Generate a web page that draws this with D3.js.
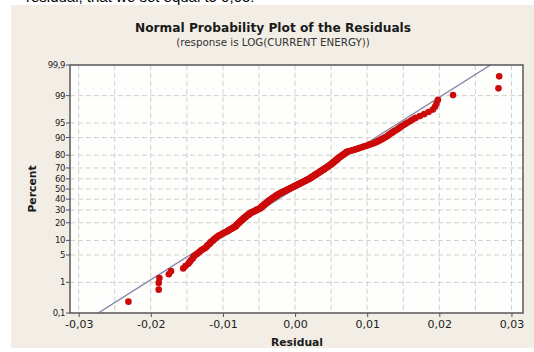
<!DOCTYPE html>
<html>
<head>
<meta charset="utf-8">
<script src="https://cdn.jsdelivr.net/npm/d3@7"></script>
<style>
  body { margin: 0; background: #fff; }
  svg { display: block; }
  .tick text { font-family: "DejaVu Sans", sans-serif; fill: #222; }
  .axis path { display: none; }
  .axis line { stroke: #555; }
</style>
</head>
<body>
<svg width="534" height="352"></svg>
<script>
// sorted residuals
const residuals = [
  -0.0231,-0.0189,-0.0189,-0.0188,-0.0175,-0.0172,-0.0155,-0.0152,-0.0148,-0.0146,
  -0.0144,-0.0142,-0.0141,-0.0139,-0.0136,-0.0134,-0.0132,-0.0130,-0.0128,-0.0125,
  -0.0123,-0.0122,-0.0121,-0.0119,-0.0118,-0.0117,-0.0116,-0.0114,-0.0113,-0.0112,
  -0.0110,-0.0109,-0.0108,-0.0106,-0.0105,-0.0103,-0.0101,-0.0100,-0.0098,-0.0096,
  -0.0094,-0.0093,-0.0092,-0.0090,-0.0089,-0.0087,-0.0086,-0.0085,-0.0083,-0.0082,
  -0.0082,-0.0081,-0.0080,-0.0080,-0.0079,-0.0078,-0.0077,-0.0077,-0.0076,-0.0075,
  -0.0074,-0.0074,-0.0073,-0.0072,-0.0071,-0.0071,-0.0070,-0.0069,-0.0068,-0.0068,
  -0.0067,-0.0066,-0.0065,-0.0064,-0.0064,-0.0063,-0.0062,-0.0061,-0.0060,-0.0059,
  -0.0057,-0.0056,-0.0055,-0.0054,-0.0053,-0.0052,-0.0050,-0.0049,-0.0048,-0.0048,
  -0.0047,-0.0046,-0.0046,-0.0045,-0.0044,-0.0044,-0.0043,-0.0043,-0.0042,-0.0041,
  -0.0041,-0.0040,-0.0039,-0.0039,-0.0038,-0.0037,-0.0037,-0.0036,-0.0036,-0.0035,
  -0.0034,-0.0033,-0.0033,-0.0032,-0.0031,-0.0030,-0.0030,-0.0029,-0.0028,-0.0027,
  -0.0027,-0.0026,-0.0025,-0.0024,-0.0024,-0.0023,-0.0022,-0.0021,-0.0020,-0.0019,
  -0.0018,-0.0017,-0.0016,-0.0015,-0.0014,-0.0013,-0.0012,-0.0011,-0.0010,-0.0009,
  -0.0008,-0.0007,-0.0006,-0.0005,-0.0004,-0.0003,-0.0002,-0.0001,0.0000,0.0001,
  0.0002,0.0003,0.0004,0.0005,0.0006,0.0007,0.0008,0.0009,0.0010,0.0011,
  0.0012,0.0013,0.0014,0.0015,0.0016,0.0017,0.0018,0.0019,0.0020,0.0021,
  0.0022,0.0022,0.0023,0.0024,0.0025,0.0026,0.0026,0.0027,0.0028,0.0029,
  0.0030,0.0030,0.0031,0.0032,0.0033,0.0034,0.0035,0.0035,0.0036,0.0037,
  0.0038,0.0039,0.0040,0.0040,0.0041,0.0042,0.0043,0.0044,0.0045,0.0046,
  0.0046,0.0047,0.0048,0.0049,0.0050,0.0050,0.0051,0.0052,0.0053,0.0053,
  0.0054,0.0055,0.0056,0.0057,0.0057,0.0058,0.0059,0.0060,0.0060,0.0061,
  0.0062,0.0063,0.0064,0.0065,0.0066,0.0067,0.0068,0.0069,0.0070,0.0071,
  0.0072,0.0074,0.0077,0.0080,0.0083,0.0085,0.0088,0.0090,0.0093,0.0095,
  0.0098,0.0101,0.0103,0.0106,0.0109,0.0111,0.0113,0.0115,0.0117,0.0119,
  0.0121,0.0123,0.0125,0.0127,0.0129,0.0130,0.0132,0.0134,0.0136,0.0138,
  0.0141,0.0143,0.0145,0.0147,0.0150,0.0153,0.0156,0.0160,0.0163,0.0167,
  0.0173,0.0179,0.0185,0.0191,0.0194,0.0196,0.0198,0.0219,0.0282,0.0283
]
const fitMean = -0.0001
const fitSd = 0.0088

const xTicks = [-0.03, -0.02, -0.01, 0, 0.01, 0.02, 0.03]
const xGrid = d3.range(-0.03, 0.0301, 0.005)
const yTicks = [0.1, 1, 5, 10, 20, 30, 40, 50, 60, 70, 80, 90, 95, 99, 99.9]

const title = 'Normal Probability Plot of the Residuals'
const subtitle = '(response is LOG(CURRENT ENERGY))'

// inverse of the standard normal cdf (Acklam)
function qnorm(p) {
  const a = [-39.69683028665376, 220.9460984245205, -275.9285104469687, 138.3577518672690, -30.66479806614716, 2.506628277459239]
  const b = [-54.47609879822406, 161.5858368580409, -155.6989798598866, 66.80131188771972, -13.28068155288572]
  const c = [-0.007784894002430293, -0.3223964580411365, -2.400758277161838, -2.549732539343734, 4.374664141464968, 2.938163982698783]
  const d = [0.007784695709041462, 0.3224671290700398, 2.445134137142996, 3.754408661907416]
  const lo = 0.02425
  let q, r
  if (p < lo) {
    q = Math.sqrt(-2 * Math.log(p))
    return (((((c[0]*q+c[1])*q+c[2])*q+c[3])*q+c[4])*q+c[5]) / ((((d[0]*q+d[1])*q+d[2])*q+d[3])*q+1)
  }
  if (p > 1 - lo) {
    q = Math.sqrt(-2 * Math.log(1 - p))
    return -(((((c[0]*q+c[1])*q+c[2])*q+c[3])*q+c[4])*q+c[5]) / ((((d[0]*q+d[1])*q+d[2])*q+d[3])*q+1)
  }
  q = p - 0.5
  r = q * q
  return (((((a[0]*r+a[1])*r+a[2])*r+a[3])*r+a[4])*r+a[5])*q / (((((b[0]*r+b[1])*r+b[2])*r+b[3])*r+b[4])*r+1)
}

const W = 534, H = 352
const margin = { top: 65, right: 11, bottom: 39, left: 70 }
const svg = d3.select('svg')

const locale = d3.formatLocale({ decimal: ',', thousands: '.', grouping: [3], currency: ['', ''], minus: '-' })

const x = d3.scaleLinear().domain([-0.0312, 0.0316]).range([margin.left, W - margin.right])
const yz = d3.scaleLinear().domain([qnorm(0.001), qnorm(0.999)]).range([H - margin.bottom, margin.top])
const y = pct => yz(qnorm(pct / 100))

// sliver of the document text above the figure (cut off in the source too)
svg.append('text')
  .attr('x', 26).attr('y', 1.5)
  .attr('font-family', 'Liberation Sans, sans-serif')
  .attr('font-size', 15)
  .text('residual, that we set equal to 0,05:')

svg.append('rect')
  .attr('x', 11).attr('y', 5)
  .attr('width', W - 11).attr('height', 343)
  .attr('fill', '#f2eee6')

svg.append('rect')
  .attr('x', margin.left).attr('y', margin.top)
  .attr('width', W - margin.left - margin.right)
  .attr('height', H - margin.top - margin.bottom)
  .attr('fill', '#fefefc')

svg.append('clipPath').attr('id', 'plot')
  .append('rect')
  .attr('x', margin.left).attr('y', margin.top)
  .attr('width', W - margin.left - margin.right)
  .attr('height', H - margin.top - margin.bottom)

// grid
svg.append('g')
  .selectAll('line')
  .data(xGrid)
  .join('line')
  .attr('x1', d => x(d)).attr('x2', d => x(d))
  .attr('y1', margin.top).attr('y2', H - margin.bottom)
  .attr('stroke', '#cfcfcf')
  .attr('stroke-dasharray', '5,3')

svg.append('g')
  .selectAll('line')
  .data(yTicks)
  .join('line')
  .attr('x1', margin.left).attr('x2', W - margin.right)
  .attr('y1', d => y(d)).attr('y2', d => y(d))
  .attr('stroke', '#cfcfcf')
  .attr('stroke-dasharray', '5,3')

// fitted line
const zr = yz.domain()
svg.append('line')
  .attr('clip-path', 'url(#plot)')
  .attr('x1', x(fitMean + fitSd * zr[0])).attr('y1', yz(zr[0]))
  .attr('x2', x(fitMean + fitSd * zr[1])).attr('y2', yz(zr[1]))
  .attr('stroke', '#8586a6')
  .attr('stroke-width', 1.4)

// points at median ranks
const n = residuals.length
svg.append('g')
  .selectAll('circle')
  .data(residuals)
  .join('circle')
  .attr('cx', d => x(d))
  .attr('cy', (d, i) => y((i + 1 - 0.3) / (n + 0.4) * 100))
  .attr('r', 3.3)
  .attr('fill', '#cc0a0a')

// frame
svg.append('rect')
  .attr('x', margin.left).attr('y', margin.top)
  .attr('width', W - margin.left - margin.right)
  .attr('height', H - margin.top - margin.bottom)
  .attr('fill', 'none')
  .attr('stroke', '#5a5a5a')
  .attr('stroke-width', 1.5)

// x axis
const xAxis = svg.append('g')
  .attr('class', 'axis')
  .attr('transform', `translate(0,${H - margin.bottom})`)
  .call(d3.axisBottom(x).tickValues(xTicks).tickSize(4).tickPadding(3).tickFormat(locale.format('.2f')))
xAxis.selectAll('text').attr('font-size', 11)

// y axis on the probability scale
const yg = svg.append('g').attr('class', 'axis')
yg.selectAll('line')
  .data(yTicks)
  .join('line')
  .attr('x1', margin.left - 4).attr('x2', margin.left)
  .attr('y1', d => y(d)).attr('y2', d => y(d))
yg.selectAll('text')
  .data(yTicks)
  .join('text')
  .attr('x', margin.left - 5)
  .attr('y', d => y(d))
  .attr('dy', '0.35em')
  .attr('text-anchor', 'end')
  .attr('font-family', 'DejaVu Sans, sans-serif')
  .attr('font-size', 8.5)
  .attr('letter-spacing', -0.4)
  .attr('fill', '#222')
  .text(d => locale.format('')(d))

// titles
svg.append('text')
  .attr('x', 273).attr('y', 32)
  .attr('text-anchor', 'middle')
  .attr('font-family', 'DejaVu Sans, sans-serif')
  .attr('font-weight', 'bold')
  .attr('font-size', 12.2)
  .attr('fill', '#1a1a1a')
  .text(title)

svg.append('text')
  .attr('x', 273).attr('y', 46)
  .attr('text-anchor', 'middle')
  .attr('font-family', 'DejaVu Sans, sans-serif')
  .attr('font-size', 10.3)
  .attr('fill', '#333')
  .text(subtitle)

svg.append('text')
  .attr('x', 297).attr('y', 346)
  .attr('text-anchor', 'middle')
  .attr('font-family', 'DejaVu Sans, sans-serif')
  .attr('font-weight', 'bold')
  .attr('font-size', 10.8)
  .attr('fill', '#1a1a1a')
  .text('Residual')

svg.append('text')
  .attr('transform', 'translate(36,189) rotate(-90)')
  .attr('text-anchor', 'middle')
  .attr('font-family', 'DejaVu Sans, sans-serif')
  .attr('font-weight', 'bold')
  .attr('font-size', 10.8)
  .attr('fill', '#1a1a1a')
  .text('Percent')
</script>
</body>
</html>
